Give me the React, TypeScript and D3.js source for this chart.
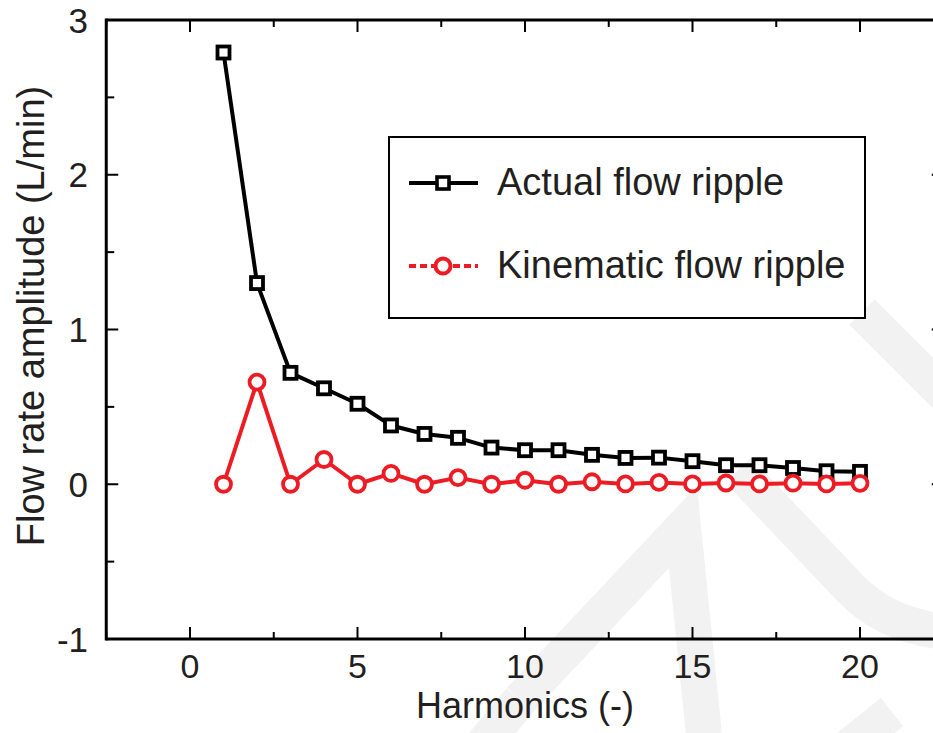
import React from "react";
import * as d3 from "d3";

const harmonics = [1, 2, 3, 4, 5, 6, 7, 8, 9, 10, 11, 12, 13, 14, 15, 16, 17, 18, 19, 20];
const actualFlow = [2.79, 1.3, 0.72, 0.62, 0.52, 0.38, 0.325, 0.3, 0.237, 0.22, 0.22, 0.19, 0.17, 0.172, 0.149, 0.123, 0.123, 0.105, 0.084, 0.08];
const kinematicFlow = [0, 0.66, 0, 0.16, 0, 0.07, 0, 0.043, 0, 0.026, 0, 0.016, 0.002, 0.012, 0.002, 0.008, 0.002, 0.007, 0.002, 0.006];
const xTickLabels = [0, 5, 10, 15, 20];
const yTickLabels = [-1, 0, 1, 2, 3];
const seriesNames = ["Actual flow ripple", "Kinematic flow ripple"];

const W = 933;
const H = 733;
const FONT = "'Liberation Sans', Arial, Helvetica, sans-serif";
const TXT = "#231f20";
const RED = "#ED1C24";
const WM = "#f2f2f2";

export default function App() {
  const x = d3.scaleLinear().domain([-2.5, 22.5]).range([106.25, 943.75]);
  const y = d3.scaleLinear().domain([-1, 3]).range([639, 20]);
  const x0 = x(-2.5), x1 = x(22.5), y0 = y(-1), y1 = y(3);

  const line = d3
    .line<number>()
    .x((_, i) => x(harmonics[i]))
    .y((d) => y(d));

  const xMajor = d3.range(0, 20.01, 5);
  const xMinor = d3.range(-2.5, 22.51, 2.5).filter((v) => Math.abs(v % 5) > 0.01);
  const yMajor = d3.range(-1, 3.01, 1);
  const yMinor = d3.range(-0.5, 3, 1);

  const sq = 12;
  const r = 7.5;

  // watermark paths (decorative background)
  const wm = [
    "M862,312 L945,395",
    "M738,470 L850,588 Q885,625 945,632",
    "M520,700 L683,527 L705,745",
    "M892,712 L820,770",
    "M470,760 L520,700",
  ];

  return (
    <svg
      width={W}
      height={H}
      viewBox={`0 0 ${W} ${H}`}
      style={{ position: "absolute", left: 0, top: 0, background: "#fff" }}
    >
      <rect x={0} y={0} width={W} height={H} fill="#fff" />
      <g fill="none" stroke={WM} strokeWidth={36} strokeLinejoin="miter">
        {wm.map((d, i) => (
          <path key={i} d={d} />
        ))}
      </g>

      {/* frame */}
      <g stroke="#000" strokeWidth={3} fill="none">
        <line x1={x0} y1={y1} x2={x1} y2={y1} />
        <line x1={x0} y1={y0} x2={x1} y2={y0} />
        <line x1={x0} y1={y1 - 1.5} x2={x0} y2={y0 + 1.5} />
        <line x1={x1} y1={y1} x2={x1} y2={y0} />
      </g>

      {/* ticks */}
      <g stroke="#000" strokeWidth={2}>
        {xMajor.map((v) => (
          <g key={"xm" + v}>
            <line x1={x(v)} x2={x(v)} y1={y0} y2={y0 - 12} />
            <line x1={x(v)} x2={x(v)} y1={y1} y2={y1 + 12} />
          </g>
        ))}
        {xMinor.map((v) => (
          <g key={"xn" + v}>
            <line x1={x(v)} x2={x(v)} y1={y0} y2={y0 - 7} />
            <line x1={x(v)} x2={x(v)} y1={y1} y2={y1 + 7} />
          </g>
        ))}
        {yMajor.map((v) => (
          <g key={"ym" + v}>
            <line x1={x0} x2={x0 + 12} y1={y(v)} y2={y(v)} />
            <line x1={x1} x2={x1 - 12} y1={y(v)} y2={y(v)} />
          </g>
        ))}
        {yMinor.map((v) => (
          <g key={"yn" + v}>
            <line x1={x0} x2={x0 + 8} y1={y(v)} y2={y(v)} />
            <line x1={x1} x2={x1 - 8} y1={y(v)} y2={y(v)} />
          </g>
        ))}
      </g>

      {/* tick labels */}
      <g fontFamily={FONT} fill={TXT}>
        {xTickLabels.map((v) => (
          <text key={"xl" + v} x={x(v)} y={678} textAnchor="middle" fontSize={34}>
            {v}
          </text>
        ))}
        {yTickLabels.map((v) => (
          <text key={"yl" + v} x={88} y={y(v) + 12.5} textAnchor="end" fontSize={35}>
            {v}
          </text>
        ))}
      </g>

      {/* axis titles */}
      <text
        x={(x0 + x1) / 2}
        y={718}
        textAnchor="middle"
        fontFamily={FONT}
        fontSize={36}
        fill={TXT}
      >
        Harmonics (-)
      </text>
      <text
        transform={`translate(44, 316) rotate(-90)`}
        textAnchor="middle"
        fontFamily={FONT}
        fontSize={38}
        fill={TXT}
      >
        Flow rate amplitude (L/min)
      </text>

      {/* series */}
      <path d={line(actualFlow) || ""} fill="none" stroke="#000" strokeWidth={4} strokeLinejoin="round" />
      <path d={line(kinematicFlow) || ""} fill="none" stroke={RED} strokeWidth={4} strokeLinejoin="round" />
      {actualFlow.map((v, i) => (
        <rect
          key={"a" + i}
          x={x(harmonics[i]) - sq / 2}
          y={y(v) - sq / 2}
          width={sq}
          height={sq}
          fill="#fff"
          stroke="#000"
          strokeWidth={3.8}
        />
      ))}
      {kinematicFlow.map((v, i) => (
        <circle
          key={"k" + i}
          cx={x(harmonics[i])}
          cy={y(v)}
          r={r}
          fill="#fff"
          stroke={RED}
          strokeWidth={3.8}
        />
      ))}

      {/* legend */}
      <rect x={389} y={137} width={476} height={181} fill="#fff" stroke="#000" strokeWidth={2} />
      <line x1={409} x2={478} y1={183} y2={183} stroke="#000" strokeWidth={4} />
      <rect x={443 - 6} y={183 - 6} width={12} height={12} fill="#fff" stroke="#000" strokeWidth={3.6} />
      <text x={497} y={195} fontFamily={FONT} fontSize={38} fill={TXT}>
        {seriesNames[0]}
      </text>
      <line
        x1={409}
        x2={478}
        y1={266}
        y2={266}
        stroke={RED}
        strokeWidth={4}
        strokeDasharray="7,4"
      />
      <circle cx={443} cy={266} r={7.5} fill="#fff" stroke={RED} strokeWidth={4} />
      <text x={497} y={278} fontFamily={FONT} fontSize={38} fill={TXT}>
        {seriesNames[1]}
      </text>
    </svg>
  );
}
